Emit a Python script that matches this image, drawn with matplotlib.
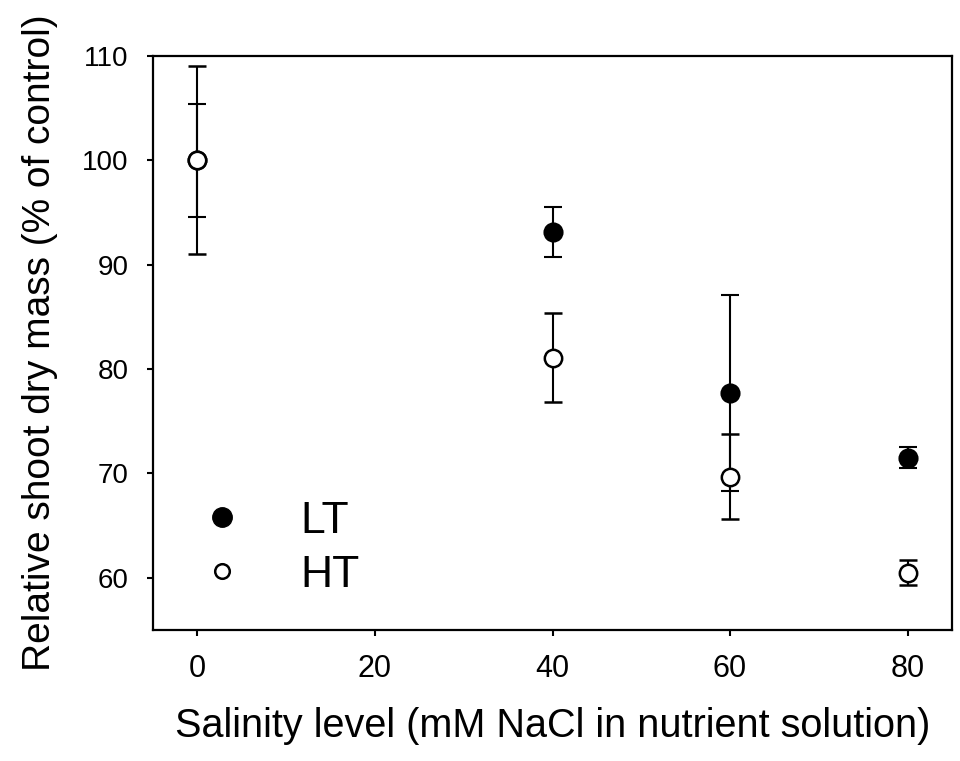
import matplotlib
matplotlib.use("Agg")
import matplotlib.pyplot as plt
from matplotlib.lines import Line2D

plt.rcParams['font.family'] = ['Liberation Sans', 'DejaVu Sans']

salinity = [0, 40, 60, 80]
lt_mean = [100.0, 93.1, 77.7, 71.5]
lt_err = [5.4, 2.4, 9.4, 1.0]
ht_mean = [100.0, 81.1, 69.7, 60.5]
ht_err = [9.0, 4.3, 4.05, 1.2]

x_ticks = [0, 20, 40, 60, 80]
y_ticks = [60, 70, 80, 90, 100, 110]

fig = plt.figure(figsize=(9.6, 7.61), dpi=100)
ax = fig.add_axes([153/960, 131/761, 799/960, 574/761])

ax.errorbar(salinity, lt_mean, yerr=lt_err, fmt='o', color='black',
            markerfacecolor='black', markeredgecolor='black', markersize=13,
            markeredgewidth=1.5, elinewidth=1.5, capsize=6.5, capthick=1.5,
            zorder=3)
ax.errorbar(salinity, ht_mean, yerr=ht_err, fmt='o', color='black',
            markerfacecolor='white', markeredgecolor='black', markersize=12.5,
            markeredgewidth=1.8, elinewidth=1.5, capsize=6.5, capthick=1.5,
            zorder=4)

ax.set_xlim(-5, 85)
ax.set_ylim(55, 110)
ax.set_xticks(x_ticks)
ax.set_yticks(y_ticks)
ax.tick_params(axis='both', direction='out', length=4.3, width=1.5,
               top=False, right=False, pad=13.5)
ax.tick_params(axis='y', labelsize=20)
ax.tick_params(axis='x', labelsize=22, pad=13)
for s in ax.spines.values():
    s.set_linewidth(1.6)

ax.set_xlabel('Salinity level (mM NaCl in nutrient solution)', fontsize=28.5)
ax.set_ylabel('Relative shoot dry mass (% of control)', fontsize=28)
ax.xaxis.set_label_coords(0.5, -0.135)
ax.yaxis.set_label_coords(-0.119, 0.5)

handles = [
    Line2D([], [], linestyle='none', marker='o', markersize=14,
           markerfacecolor='black', markeredgecolor='black'),
    Line2D([], [], linestyle='none', marker='o', markersize=10.5,
           markerfacecolor='white', markeredgecolor='black', markeredgewidth=1.8),
]
ax.legend(handles, ['LT', 'HT'], loc='upper left', frameon=False, fontsize=32,
          handlelength=1.0, handletextpad=1.27, labelspacing=0.3,
          borderpad=0, borderaxespad=0, bbox_to_anchor=(0.0585, 0.2256))

fig.savefig('out.png', dpi=100)
